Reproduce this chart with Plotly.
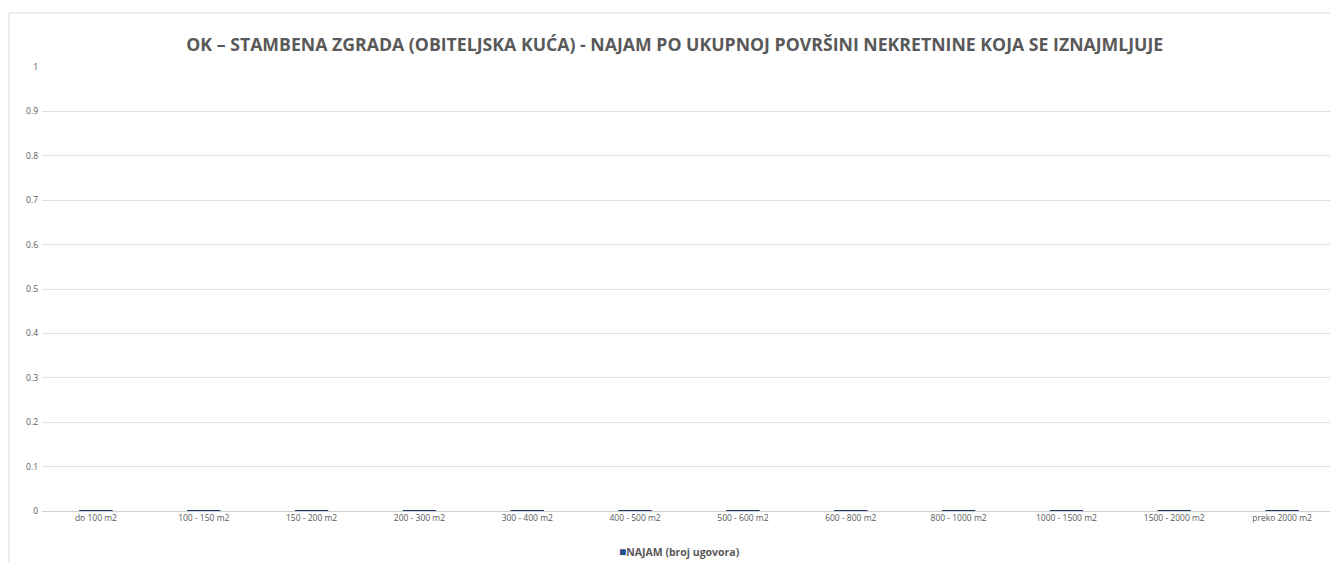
import plotly.graph_objects as go

# categories (area ranges) and number of rental contracts
categories = ["do 100 m2", "100 - 150 m2", "150 - 200 m2", "200 - 300 m2", "300 - 400 m2",
              "400 - 500 m2", "500 - 600 m2", "600 - 800 m2", "800 - 1000 m2",
              "1000 - 1500 m2", "1500 - 2000 m2", "preko 2000 m2"]
najam = [0, 0, 0, 0, 0, 0, 0, 0, 0, 0, 0, 0]
y_ticks = [0, 0.1, 0.2, 0.3, 0.4, 0.5, 0.6, 0.7, 0.8, 0.9, 1]

BAR_COLOR = "#1f4e8c"
BAR_EDGE = "#1a3a6b"
TEXT_COLOR = "#595959"
GRID_COLOR = "#e0e0e0"

fig = go.Figure()
fig.add_trace(go.Bar(
    x=categories,
    y=najam,
    name="NAJAM (broj ugovora)",
    marker=dict(color=BAR_COLOR, line=dict(color=BAR_EDGE, width=2)),
    showlegend=False,
))

# legend drawn as a small annotation (square + bold label), like the original
fig.add_annotation(
    x=0.493, xref="paper", y=-0.0923, yref="paper",
    xanchor="center", yanchor="middle", showarrow=False,
    text=f"<span style='color:{BAR_COLOR};font-size:12px'>■</span><b>NAJAM (broj ugovora)</b>",
    font=dict(family="Open Sans", size=10.5, color=TEXT_COLOR),
)

fig.update_layout(
    width=1330, height=554,
    paper_bgcolor="white", plot_bgcolor="white",
    margin=dict(l=34, r=2, t=59, b=51),
    bargap=0.69,
    font=dict(family="Open Sans", color=TEXT_COLOR, size=9),
    title=dict(
        text="<b>OK – STAMBENA ZGRADA (OBITELJSKA KUĆA) - NAJAM PO UKUPNOJ POVRŠINI NEKRETNINE KOJA SE IZNAJMLJUJE</b>",
        x=0.489, xref="paper", xanchor="center", y=1 - 37 / 554, yanchor="middle",
        font=dict(family="Open Sans", size=17.7, color=TEXT_COLOR),
    ),
    showlegend=False,
    shapes=[dict(type="rect", xref="paper", yref="paper",
                 x0=-0.0255, x1=1.001, y0=-0.3, y1=1.1216,
                 line=dict(color="#d9d9d9", width=1), layer="below")],
)

fig.update_xaxes(showgrid=False, showline=False, ticks="", tickfont=dict(size=8.5, color=TEXT_COLOR))
fig.update_yaxes(range=[0, 1], tickvals=y_ticks, ticktext=[f"{v:g}" for v in y_ticks],
                 showgrid=True, gridcolor=GRID_COLOR, gridwidth=1, zeroline=True,
                 zerolinecolor="#d0d0d0", zerolinewidth=1, ticks="",
                 ticklabelstandoff=3, tickfont=dict(size=8.5, color=TEXT_COLOR))

fig.write_html("out.html")
